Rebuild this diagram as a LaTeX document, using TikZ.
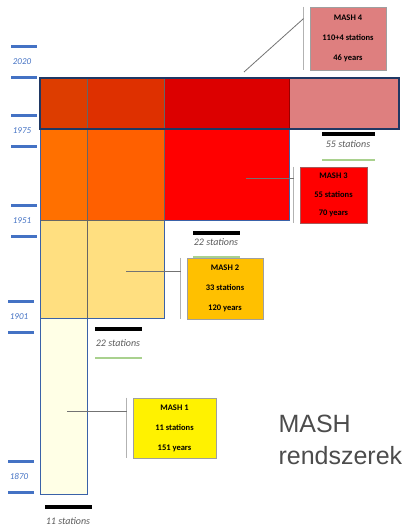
\documentclass[tikz,border=0pt]{standalone}
\usepackage{fontspec}
\setmainfont{Carlito}
\newfontfamily\titlefont{Liberation Sans}
\usetikzlibrary{positioning}
\definecolor{yearblue}{HTML}{4472C4}
\definecolor{edgeblue}{HTML}{3A62A8}
\definecolor{navy}{HTML}{1F3864}
\definecolor{barkgreen}{HTML}{A9D18E}
\definecolor{labelgray}{HTML}{595959}
\definecolor{topa}{HTML}{DD3D00}
\definecolor{topb}{HTML}{DE3000}
\definecolor{topc}{HTML}{DC0000}
\definecolor{topd}{HTML}{DE7F7F}
\definecolor{mida}{HTML}{FF7000}
\definecolor{midb}{HTML}{FF6000}
\definecolor{midc}{HTML}{FF0000}
\definecolor{lowa}{HTML}{FFDF80}
\definecolor{basea}{HTML}{FFFFE6}
\definecolor{mashtwo}{HTML}{FFC000}
\tikzset{
	mash/.style={
		rectangle,
		draw=gray!75,
		line width=0.9pt,
		align=center,
		font=\bfseries\fontsize{8.5}{20}\selectfont
	}
}

\begin{document}
\begin{tikzpicture}[x=1pt,y=-1pt]
		\tikzstyle{connect}=[gray!90!black, line width=0.8pt]
		\tikzstyle{bracket}=[gray!60, line width=1.4pt]
		\tikzstyle{yearbar}=[yearblue, line width=3pt]
		\tikzstyle{stationbar}=[black, line width=4pt]
		\tikzstyle{greenbar}=[barkgreen, line width=2pt]
		\tikzstyle{stationtext}=[text=labelgray, font=\itshape\fontsize{10}{12}\selectfont, inner sep=0pt]
		\tikzstyle{edge}=[edgeblue, line width=0.9pt]
		\tikzstyle{inner}=[gray!80!black, line width=0.7pt]
		\useasboundingbox (0,0) rectangle (406,530);
		
		% blocks
		\fill[topa] (40,78) rectangle (87,129);
		\fill[topb] (87,78) rectangle (164,129);
		\fill[topc] (164,78) rectangle (289,129);
		\fill[topd] (289,78) rectangle (399,129);
		\fill[mida] (40,129) rectangle (87,220);
		\fill[midb] (87,129) rectangle (164,220);
		\fill[midc] (164,129) rectangle (289,220);
		\fill[lowa] (40,220) rectangle (164,318);
		\fill[basea] (40,318) rectangle (87,494);
		
		\draw[inner] (87,78) -- (87,494);
		\draw[inner] (164,78) -- (164,220);
		\draw[inner] (40,220) -- (164,220);
		\draw[inner, red!60!black] (289,78) -- (289,129);
		\draw[edge] (40,129) -- (40,494) -- (87,494) -- (87,318) -- (164,318) -- (164,220) -- (289,220) -- (289,129);
		\draw[edge] (40,318) -- (87,318);
		\draw[navy, line width=1.3pt] (40,78) rectangle (399,129);
		
		% years
		\foreach \yr/\xl/\yt in {2020/11/46, 1975/11/115, 1951/11/205, 1901/8/301, 1870/8/461}{
			\draw[yearbar] (\xl,\yt) -- (\xl+26,\yt);
			\draw[yearbar] (\xl,\yt+31) -- (\xl+26,\yt+31);
			\node[text=yearblue, font=\itshape\fontsize{9}{11}\selectfont] at (\xl+11,\yt+15.5) {\yr};
		}
		
		% stations
		\draw[stationbar] (45,507) -- (92,507);
		\node[stationtext] (st1) at (68,521) {11 stations};
		\draw[stationbar] (95,329) -- (142,329);
		\node[stationtext] (st2) at (118,343) {22 stations};
		\draw[greenbar] (95,358) -- (142,358);
		\draw[stationbar] (193,233) -- (240,233);
		\node[stationtext] (st3) at (216,242) {22 stations};
		\draw[greenbar] (193,257) -- (240,257);
		\draw[stationbar] (322,134) -- (375,134);
		\node[stationtext] (st4) at (348,144) {55 stations};
		\draw[greenbar] (322,160) -- (375,160);
		
		% callouts
		\node[mash, fill=topd, minimum width=76pt, minimum height=63pt] (mash4) at (348,38.5) {MASH 4\\110+4 stations\\46 years};
		\node[mash, fill=midc, draw=gray!70!red, minimum width=67pt, minimum height=56pt, font=\bfseries\fontsize{8.5}{18.5}\selectfont] (mash3) at (333.5,195) {MASH 3\\55 stations\\70 years};
		\node[mash, fill=mashtwo, minimum width=76pt, minimum height=61pt] (mash2) at (225,288.5) {MASH 2\\33 stations\\120 years};
		\node[mash, fill=yellow, minimum width=83pt, minimum height=60pt] (mash1) at (174.5,428) {MASH 1\\11 stations\\151 years};
		
		\foreach \m in {mash1,mash2,mash3,mash4}{
			\coordinate (\m t) at ([xshift=-6pt]\m.north west);
			\coordinate (\m b) at ([xshift=-6pt]\m.south west);
			\draw[bracket] (\m t) -- (\m b);
		}
		
		\coordinate (in4) at (244,72);
		\coordinate (in3) at (246,178);
		\coordinate (in2) at (126,271);
		\coordinate (in1) at (67,411);
		\draw[connect] (in4) -- ([yshift=-12pt]mash4t);
		\draw[connect] (in3) -- (in3 -| mash3t);
		\draw[connect] (in2) -- (in2 -| mash2t);
		\draw[connect] (in1) -- (in1 -| mash1t);
		
		\node[text=labelgray!85!black, font=\titlefont\fontsize{25}{32}\selectfont, align=left, anchor=west] (title) at (275,440) {MASH\\rendszerek};
		
\end{tikzpicture}
\end{document}
